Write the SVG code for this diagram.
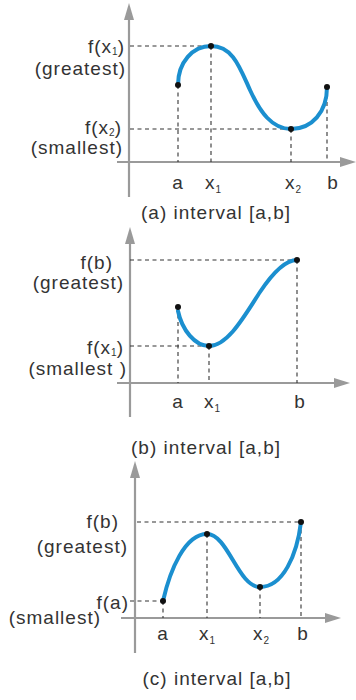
<svg xmlns="http://www.w3.org/2000/svg" width="356" height="700" viewBox="0 0 356 700">
<style>
.ax{stroke:#9a9a9a;stroke-width:2.2;fill:none}
.ah{fill:#9a9a9a}
.ds{stroke:#333;stroke-width:1.1;stroke-dasharray:4,3.5;fill:none}
.cv{stroke:#1b8fcf;stroke-width:4;fill:none;stroke-linecap:round}
.pt{fill:#111}
text{font-family:"Liberation Sans",Arial,sans-serif;font-size:19px;fill:#333;letter-spacing:1px}
.e{text-anchor:end}
.m{text-anchor:middle}
.s{font-size:10px;letter-spacing:0}
</style>
<rect width="356" height="700" fill="#fff"/>
<g id="panel-a">
  <g id="axes-a">
    <line class="ax" x1="129" y1="197" x2="129" y2="16"/>
    <polygon class="ah" points="129,3 124,20 134,20"/>
    <line class="ax" x1="117" y1="162" x2="344" y2="162"/>
    <polygon class="ah" points="356,162 340,157 340,167"/>
  </g>
  <g id="connectors-a">
    <path class="ds" d="M130,46H211M130,129H291M178,85V162M211,46V162M291,129V162M327,87V162"/>
  </g>
  <g id="curve-a">
    <path class="cv" d="M178,85 C178,62 193,46 211,46 C233,46 240,68 250,90 C260,112 272,129 291,129 C312,129 327,112 327,87"/>
    <circle class="pt" cx="178" cy="85" r="3"/>
    <circle class="pt" cx="211" cy="46" r="3"/>
    <circle class="pt" cx="291" cy="129" r="3"/>
    <circle class="pt" cx="327" cy="87" r="3"/>
  </g>
  <g id="labels-a">
    <text class="e" x="125" y="53">f(x<tspan class="s" dy="2">1</tspan><tspan dy="-2">)</tspan></text>
    <text class="e" x="126" y="75">(greatest)</text>
    <text class="e" x="122" y="134">f(x<tspan class="s" dy="2">2</tspan><tspan dy="-2">)</tspan></text>
    <text class="e" x="123" y="154">(smallest)</text>
    <text class="m" x="178" y="189">a</text>
    <text x="205" y="189">x<tspan class="s" dy="4">1</tspan></text>
    <text x="285" y="189">x<tspan class="s" dy="4">2</tspan></text>
    <text class="m" x="333" y="189">b</text>
    <text class="m" x="216" y="219">(a) interval [a,b]</text>
  </g>
</g>
<g id="panel-b">
  <g id="axes-b">
    <line class="ax" x1="130" y1="417" x2="130" y2="240"/>
    <polygon class="ah" points="130,227 125,244 135,244"/>
    <line class="ax" x1="117" y1="383" x2="338" y2="383"/>
    <polygon class="ah" points="350,383 334,378 334,388"/>
  </g>
  <g id="connectors-b">
    <path class="ds" d="M130,260H297M130,346H209M178,307V383M209,346V383M297,260V383"/>
  </g>
  <g id="curve-b">
    <path class="cv" d="M178,311 C182,330 195,346 209,346 C228,346 245,315 260,292 C272,274 285,260 297,260"/>
    <circle class="pt" cx="178" cy="307" r="3"/>
    <circle class="pt" cx="209" cy="346" r="3"/>
    <circle class="pt" cx="297" cy="260" r="3"/>
  </g>
  <g id="labels-b">
    <text class="e" x="113" y="269">f(b)</text>
    <text class="e" x="124" y="289">(greatest)</text>
    <text class="e" x="124" y="354">f(x<tspan class="s" dy="2">1</tspan><tspan dy="-2">)</tspan></text>
    <text class="e" x="127" y="375">(smallest )</text>
    <text class="m" x="178" y="408">a</text>
    <text x="204" y="408">x<tspan class="s" dy="4">1</tspan></text>
    <text class="m" x="300" y="408">b</text>
    <text class="m" x="206" y="454">(b) interval [a,b]</text>
  </g>
</g>
<g id="panel-c">
  <g id="axes-c">
    <line class="ax" x1="135" y1="653" x2="135" y2="474"/>
    <polygon class="ah" points="135,461 130,478 140,478"/>
    <line class="ax" x1="121" y1="618" x2="329" y2="618"/>
    <polygon class="ah" points="341,618 325,613 325,623"/>
  </g>
  <g id="connectors-c">
    <path class="ds" d="M137,522H301M130,601H163M163,601V618M207,534V618M260,587V618M301,522V618"/>
  </g>
  <g id="curve-c">
    <path class="cv" d="M163,601 C170,570 185,534 207,534 C228,534 238,587 260,587 C283,587 297,555 301,522"/>
    <circle class="pt" cx="163" cy="601" r="3"/>
    <circle class="pt" cx="207" cy="534" r="3"/>
    <circle class="pt" cx="260" cy="587" r="3"/>
    <circle class="pt" cx="301" cy="522" r="3"/>
  </g>
  <g id="labels-c">
    <text class="e" x="119" y="528">f(b)</text>
    <text class="e" x="128" y="553">(greatest)</text>
    <text class="e" x="129" y="609">f(a)</text>
    <text class="e" x="101" y="624">(smallest)</text>
    <text class="m" x="163" y="640">a</text>
    <text x="199" y="640">x<tspan class="s" dy="4">1</tspan></text>
    <text x="253" y="640">x<tspan class="s" dy="4">2</tspan></text>
    <text class="m" x="303" y="640">b</text>
    <text class="m" x="217" y="685">(c) interval [a,b]</text>
  </g>
</g>
</svg>
